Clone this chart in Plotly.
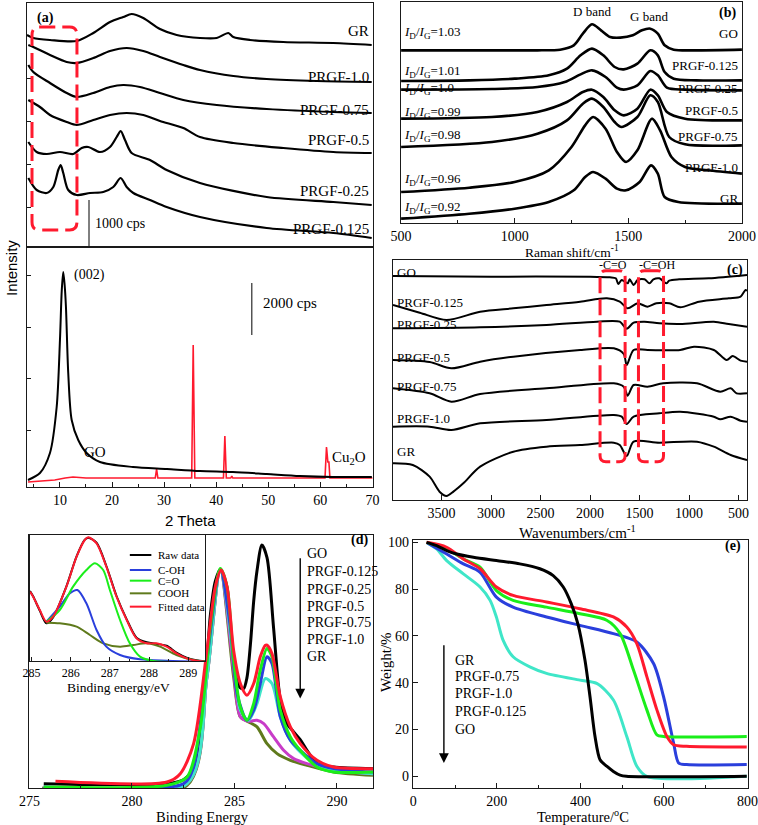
import plotly.graph_objects as go

W, H = 758, 825
SERIF = "Liberation Serif"
SANS = "Liberation Sans"

# ---------------- (a) XRD upper stack (2-theta, arbitrary intensity) ----------------
xrd_gr_x = [3.67, 4.88, 8.08, 13.2, 16.4, 19.6, 22.15, 23.75, 25.98, 29.19, 32.4, 36.87, 40.08, 42.31, 43.27, 46.47, 52.86, 62.46, 69.83]
xrd_gr_y = [215, 212, 210, 209, 217, 228, 233, 236, 232, 221, 215, 212, 212, 217, 213, 210, 208, 207, 205]
xrd_p10_x = [3.92, 4.88, 8.08, 11.29, 13.21, 16.4, 19.6, 22.8, 25.99, 29.19, 33.67, 36.87, 43.27, 49.67, 59.27, 69.83]
xrd_p10_y = [205, 203, 195, 188, 187, 192, 199, 202, 199, 193, 185, 180, 174, 171, 169, 168]
xrd_p075_x = [3.92, 4.88, 8.08, 11.29, 13.21, 16.4, 19.6, 22.15, 25.36, 29.19, 33.67, 40.08, 49.67, 62.46, 69.83]
xrd_p075_y = [185, 178, 167, 157, 153, 157, 163, 165, 163, 157, 150, 145, 141, 138, 137]
xrd_p05_x = [3.92, 6.16, 8.08, 11.29, 13.21, 16.4, 19.6, 22.8, 25.99, 29.19, 33.67, 36.87, 43.27, 52.86, 62.46, 69.83]
xrd_p05_y = [150, 143, 135, 128, 125, 130, 135, 137, 135, 129, 122, 113, 107, 102, 98, 97]
xrd_p025_x = [3.92, 5.53, 7.45, 10, 12.55, 14.17, 15.43, 17.68, 19.6, 20.88, 21.65, 22.48, 23.76, 27.27, 30.47, 36.87, 49.67, 62.46, 69.83]
xrd_p025_y = [108, 98, 96, 98, 96, 102, 103, 98, 103, 113, 119, 110, 97, 90, 80, 67, 53, 48, 45]
xrd_p0125_x = [3.92, 5.53, 7.45, 8.72, 9.67, 10.13, 10.63, 11.59, 13.21, 15.76, 18.31, 20.23, 21.65, 22.8, 24.07, 27.27, 30.47, 36.87, 49.67, 62.46, 69.83]
xrd_p0125_y = [72, 60, 57, 63, 80, 85, 77, 60, 55, 57, 58, 63, 72, 63, 57, 50, 43, 33, 22, 17, 12]
xrd_top_labels = ["GR", "PRGF-1.0", "PRGF-0.75", "PRGF-0.5", "PRGF-0.25", "PRGF-0.125"]
xrd_top_label_y = [219, 173, 140, 110, 59, 21]

# ---------------- (a) XRD lower: GO and Cu2O ----------------
xrd_go_x = [3.86, 6.16, 8.08, 9.37, 10.0, 10.35, 10.63, 10.9, 11.15, 11.59, 12.25, 13.51, 15.12, 17.68, 24.01, 30.54, 36.87, 43.2, 49.73, 56.07, 62.4, 69.9]
xrd_go_y = [10, 17, 37, 83, 150, 200, 218, 205, 183, 117, 70, 50, 37, 28, 23, 21, 19, 18, 16, 14, 13, 13]
xrd_cu2o_x = [3.86, 6, 9, 11, 12.5, 15, 20, 28.3, 28.56, 28.8, 35.3, 35.59, 35.9, 41.4, 41.67, 41.95, 42.8, 43, 43.2, 60.9, 61.19, 61.45, 61.65, 61.85, 70]
xrd_cu2o_y = [8, 9, 10, 12, 13, 12, 12, 12, 21, 12, 12, 145, 12, 12, 54, 12, 12, 14, 12, 12, 43, 28, 28, 12, 12]
xrd_ticks = [10, 20, 30, 40, 50, 60, 70]

# ---------------- (b) Raman ----------------
raman_names = ["GO", "PRGF-0.125", "PRGF-0.25", "PRGF-0.5", "PRGF-0.75", "PRGF-1.0", "GR"]
raman_go_x = [500, 700, 900, 1100, 1200, 1260, 1300, 1340, 1380, 1420, 1465, 1520, 1560, 1597, 1630, 1660, 1700, 1800, 2000]
raman_go_y = [520, 520, 520, 520, 522, 535, 570, 598, 580, 560, 558, 565, 580, 585, 570, 535, 522, 520, 522]
raman_p0125_x = [500, 800, 1000, 1150, 1230, 1290, 1340, 1390, 1440, 1480, 1540, 1597, 1630, 1660, 1700, 1800, 2000]
raman_p0125_y = [428, 430, 435, 445, 465, 505, 525, 505, 470, 463, 480, 520, 505, 455, 435, 430, 430]
raman_p025_x = [500, 900, 1100, 1220, 1290, 1340, 1400, 1450, 1480, 1540, 1597, 1630, 1670, 1750, 2000]
raman_p025_y = [402, 404, 410, 425, 448, 460, 440, 408, 402, 415, 458, 445, 408, 402, 400]
raman_p05_x = [500, 900, 1100, 1230, 1300, 1340, 1390, 1440, 1480, 1540, 1597, 1630, 1670, 1750, 2000]
raman_p05_y = [315, 320, 335, 365, 395, 402, 380, 340, 325, 345, 402, 385, 335, 315, 310]
raman_p075_x = [500, 900, 1100, 1230, 1300, 1340, 1390, 1440, 1470, 1540, 1597, 1630, 1680, 1750, 2000]
raman_p075_y = [230, 245, 270, 310, 360, 375, 350, 305, 290, 320, 385, 365, 260, 238, 235]
raman_p10_x = [500, 800, 1000, 1150, 1250, 1310, 1345, 1400, 1450, 1490, 1540, 1604, 1640, 1690, 1750, 1850, 2000]
raman_p10_y = [95, 108, 125, 160, 230, 295, 320, 285, 215, 185, 220, 315, 280, 200, 170, 160, 150]
raman_gr_x = [500, 800, 1000, 1150, 1260, 1310, 1345, 1400, 1450, 1490, 1550, 1600, 1630, 1660, 1720, 2000]
raman_gr_y = [15, 30, 45, 65, 100, 140, 155, 135, 105, 100, 125, 175, 150, 80, 65, 60]
raman_label_y = [570, 475, 405, 340, 263, 170, 75]
raman_ratio = ["1.03", "1.01", "1.0", "0.99", "0.98", "0.96", "0.92"]
raman_ratio_y = [575, 458, 405, 333, 265, 133, 50]
raman_ticks = [500, 1000, 1500, 2000]

# ---------------- (c) FTIR ----------------
ftir_names = ["GO", "PRGF-0.125", "PRGF-0.25", "PRGF-0.5", "PRGF-0.75", "PRGF-1.0", "GR"]
ftir_go_x = [3990, 3000, 2000, 1800, 1740, 1715, 1680, 1620, 1600, 1560, 1520, 1450, 1400, 1360, 1300, 1230, 1200, 1100, 800, 415]
ftir_go_y = [672, 670, 670, 668, 665, 648, 660, 650, 662, 645, 660, 662, 650, 662, 665, 650, 658, 662, 665, 675]
ftir_p0125_x = [3990, 3720, 3450, 3110, 2775, 2440, 2100, 1830, 1700, 1620, 1520, 1420, 1330, 1200, 1090, 900, 600, 480, 430, 415]
ftir_p0125_y = [585, 562, 540, 565, 575, 585, 595, 605, 595, 575, 590, 580, 590, 590, 578, 595, 605, 610, 630, 628]
ftir_p025_x = [3990, 3110, 2440, 1930, 1700, 1630, 1560, 1450, 1300, 1090, 750, 600, 415]
ftir_p025_y = [515, 518, 525, 535, 535, 514, 532, 535, 530, 528, 535, 528, 520]
ftir_p05_x = [3990, 3620, 3400, 3110, 2775, 2100, 1760, 1660, 1630, 1560, 1420, 1090, 950, 750, 620, 560, 480, 415]
ftir_p05_y = [420, 414, 395, 415, 430, 450, 455, 438, 405, 450, 450, 450, 460, 450, 420, 432, 418, 415]
ftir_p075_x = [3990, 3620, 3400, 3110, 2440, 1760, 1660, 1620, 1560, 1420, 1260, 920, 685, 580, 520, 415]
ftir_p075_y = [335, 320, 295, 318, 335, 350, 340, 313, 345, 340, 350, 350, 325, 335, 320, 320]
ftir_p10_x = [3990, 3620, 3400, 3110, 2440, 1760, 1680, 1630, 1560, 1300, 1090, 750, 685, 580, 480, 415]
ftir_p10_y = [220, 220, 210, 230, 240, 255, 250, 228, 250, 260, 265, 250, 242, 250, 238, 235]
ftir_gr_x = [3990, 3790, 3620, 3520, 3450, 3380, 3280, 3110, 2775, 2440, 2100, 1760, 1700, 1630, 1560, 1300, 920, 750, 580, 415]
ftir_gr_y = [110, 105, 70, 25, 12, 25, 50, 100, 145, 160, 165, 172, 165, 132, 175, 172, 175, 160, 135, 120]
ftir_label_y = [682, 592, 528, 428, 340, 245, 145]
ftir_ticks = [3500, 3000, 2500, 2000, 1500, 1000, 500]

# ---------------- (d) XPS C1s ----------------
xps_names = ["GO", "PRGF-0.125", "PRGF-0.25", "PRGF-0.5", "PRGF-0.75", "PRGF-1.0", "GR"]
xps_go_x = [275.7, 281.71, 282.52, 283.01, 283.34, 283.66, 283.83, 284.07, 284.31, 284.64, 284.8, 284.96, 285.13, 285.29, 285.45, 285.61, 285.78, 285.94, 286.1, 286.34, 286.59, 286.91, 287.24, 287.56, 287.89, 288.21, 288.54, 289.03, 289.84, 291.76]
xps_go_y = [13, 13, 25, 60, 160, 380, 520, 620, 655, 600, 480, 380, 320, 300, 298, 330, 430, 560, 650, 728, 690, 480, 263, 193, 168, 145, 113, 73, 63, 58]
xps_p0125_x = [276.27, 281.71, 282.36, 283.01, 283.66, 284.07, 284.35, 284.64, 284.96, 285.29, 285.61, 285.94, 286.26, 286.51, 286.59, 286.83, 287.24, 287.73, 288.21, 289.03, 289.84, 291.76]
xps_p0125_y = [20, 18, 43, 133, 413, 603, 653, 603, 413, 313, 278, 313, 393, 428, 428, 403, 273, 183, 133, 83, 63, 58]
xps_p025_x = [275.7, 281.71, 282.69, 283.34, 283.83, 284.31, 284.64, 284.96, 285.29, 285.61, 285.94, 286.26, 286.59, 286.83, 287.24, 287.73, 288.21, 289.03, 289.84, 291.76]
xps_p025_y = [3, 8, 33, 183, 483, 658, 603, 383, 243, 203, 253, 353, 418, 393, 233, 153, 113, 63, 48, 48]
xps_p05_x = [275.7, 282.52, 283.01, 283.66, 284.31, 284.8, 285.13, 285.61, 285.94, 286.26, 286.59, 286.83, 287.24, 287.73, 288.21, 289.03, 289.84, 291.76]
xps_p05_y = [3, 13, 63, 383, 653, 483, 283, 203, 233, 313, 393, 373, 213, 143, 113, 73, 58, 48]
xps_p075_x = [275.7, 282.69, 283.66, 284.31, 284.96, 285.29, 285.69, 286.1, 286.51, 286.83, 287.24, 287.73, 288.21, 289.03, 289.84, 291.76]
xps_p075_y = [3, 13, 333, 653, 383, 233, 203, 253, 328, 313, 213, 143, 108, 68, 53, 43]
xps_p10_x = [275.7, 282.69, 283.66, 284.31, 284.96, 285.29, 285.69, 286.1, 286.43, 286.91, 287.4, 287.89, 288.54, 289.84, 291.76]
xps_p10_y = [3, 13, 333, 653, 353, 213, 200, 203, 193, 153, 113, 88, 73, 53, 43]
xps_gr_x = [275.62, 282.69, 283.66, 284.31, 284.96, 285.29, 285.69, 286.1, 286.59, 287.08, 287.73, 288.54, 289.84, 291.76]
xps_gr_y = [0, 8, 333, 653, 333, 213, 198, 183, 133, 103, 83, 68, 48, 38]
xps_label_y = [703, 648, 596, 545, 495, 445, 395]
xps_ticks = [275, 280, 285, 290]

# ---------------- (d) inset: GO C1s fit ----------------
fit_names = ["Raw data", "C-OH", "C=O", "COOH", "Fitted data"]
fit_label_y = [320, 275, 243, 205, 165]
fit_raw_x = [284.96, 285.04, 285.21, 285.38, 285.55, 285.89, 286.15, 286.36, 286.45, 286.66, 286.91, 287.17, 287.43, 287.68, 287.94, 288.19, 288.45, 288.7, 288.96, 289.21, 289.43]
fit_raw_y = [212, 196, 153, 115, 133, 226, 316, 366, 372, 357, 287, 197, 127, 72, 58, 53, 48, 27, 12, 4, 1]
fit_sum_x = [284.96, 285.04, 285.21, 285.38, 285.55, 285.89, 286.15, 286.36, 286.45, 286.66, 286.91, 287.17, 287.43, 287.68, 287.94, 288.19, 288.45, 288.7, 288.96, 289.21, 289.43]
fit_sum_y = [210, 195, 155, 120, 135, 225, 315, 365, 373, 355, 285, 195, 125, 70, 55, 55, 45, 25, 10, 3, 0]
fit_coh_x = [285.38, 285.72, 285.98, 286.17, 286.4, 286.66, 286.91, 287.26, 287.77, 288.45, 289.43]
fit_coh_y = [120, 165, 205, 215, 175, 95, 45, 20, 7, 3, 0]
fit_co_x = [285.38, 285.72, 286.06, 286.4, 286.62, 286.83, 287.0, 287.26, 287.51, 287.77, 288.11, 289.43]
fit_co_y = [120, 155, 225, 275, 295, 275, 215, 125, 55, 15, 2, 0]
fit_cooh_x = [285.38, 285.72, 286.15, 286.49, 286.83, 287.26, 287.6, 287.94, 288.28, 288.7, 289.13, 289.43]
fit_cooh_y = [117, 115, 105, 80, 55, 45, 50, 55, 45, 20, 5, 0]
fit_ticks = [285, 286, 287, 288, 289]

# ---------------- (e) TGA ----------------
tga_names = ["GR", "PRGF-0.75", "PRGF-1.0", "PRGF-0.125", "GO"]
tga_black_x = [32, 56, 80, 104, 144, 199, 255, 303, 335, 359, 378, 394, 411, 423, 435, 447, 463, 479, 495, 510, 798]
tga_black_y = [100, 98.6, 96.5, 95, 93.6, 92.2, 90.8, 88.7, 85.8, 80.9, 73.8, 65.2, 49.6, 34, 17, 7.1, 4.3, 2.1, 0.5, 0, 0]
tga_red_x = [32, 80, 120, 160, 199, 239, 319, 399, 479, 511, 535, 559, 583, 607, 623, 654, 798]
tga_red_y = [100, 97.9, 92.9, 88.7, 80.9, 77.3, 74.5, 71.6, 68.1, 63.8, 56.7, 42.6, 28.4, 17, 13.5, 12.8, 12.5]
tga_green_x = [32, 80, 120, 160, 199, 239, 319, 399, 463, 495, 527, 559, 583, 599, 798]
tga_green_y = [100, 97.2, 92.9, 89.4, 79.4, 75.2, 72.3, 69.5, 66.7, 61, 45.4, 28.4, 17.7, 17, 17]
tga_blue_x = [32, 80, 120, 160, 199, 239, 319, 399, 479, 535, 575, 599, 623, 635, 654, 798]
tga_blue_y = [100, 95, 90.8, 87.2, 76.6, 72.3, 68.1, 64.5, 61, 57.4, 48.2, 34, 14.2, 5.7, 5, 5]
tga_cyan_x = [32, 56, 80, 120, 160, 184, 199, 215, 239, 279, 319, 399, 439, 479, 511, 535, 559, 798]
tga_cyan_y = [100, 97.2, 92.2, 86.5, 80.9, 75.2, 68.1, 58.2, 51.1, 46.8, 44, 41.1, 39.7, 32.6, 17, 4.3, 0, 0]
tga_label_y = [49.6, 42.6, 35.5, 27.7, 19.9]
tga_xticks = [0, 200, 400, 600, 800]
tga_yticks = [0, 20, 40, 60, 80, 100]

RED = "#ff1a2e"
GREEN = "#1aee1a"
BLUE = "#2a3fdc"
CYAN = "#3fe6c8"
MAG = "#c83cc8"
OLIVE = "#5f7a1c"


def px(x):
    return x / W


def py(y):
    return 1 - y / H


fig = go.Figure()


def line(x, y, ax, color="black", width=1.8, shape="spline"):
    fig.add_trace(go.Scatter(x=x, y=y, mode="lines", xaxis="x" + ax, yaxis="y" + ax,
                             line=dict(color=color, width=width, shape=shape, smoothing=0.8),
                             hoverinfo="skip"))


# (a) top
for xs, ys in [(xrd_gr_x, xrd_gr_y), (xrd_p10_x, xrd_p10_y), (xrd_p075_x, xrd_p075_y),
               (xrd_p05_x, xrd_p05_y), (xrd_p025_x, xrd_p025_y), (xrd_p0125_x, xrd_p0125_y)]:
    line(xs, ys, "", width=2.2)
# (a) bottom
line(xrd_cu2o_x, xrd_cu2o_y, "2", color=RED, width=1.6, shape="linear")
line(xrd_go_x, xrd_go_y, "2", width=2)
# (b)
for xs, ys in [(raman_go_x, raman_go_y), (raman_p0125_x, raman_p0125_y), (raman_p025_x, raman_p025_y),
               (raman_p05_x, raman_p05_y), (raman_p075_x, raman_p075_y), (raman_p10_x, raman_p10_y),
               (raman_gr_x, raman_gr_y)]:
    line(xs, ys, "3", width=2.6)
# (c)
for xs, ys in [(ftir_go_x, ftir_go_y), (ftir_p0125_x, ftir_p0125_y), (ftir_p025_x, ftir_p025_y),
               (ftir_p05_x, ftir_p05_y), (ftir_p075_x, ftir_p075_y), (ftir_p10_x, ftir_p10_y),
               (ftir_gr_x, ftir_gr_y)]:
    line(xs, ys, "4", width=2)
# (d)
for xs, ys, c in [(xps_go_x, xps_go_y, "black"), (xps_gr_x, xps_gr_y, OLIVE), (xps_p10_x, xps_p10_y, MAG),
                  (xps_p075_x, xps_p075_y, CYAN), (xps_p05_x, xps_p05_y, BLUE),
                  (xps_p025_x, xps_p025_y, GREEN), (xps_p0125_x, xps_p0125_y, RED)]:
    line(xs, ys, "5", color=c, width=3)
# inset
line(fit_raw_x, fit_raw_y, "6", color="black", width=2)
line(fit_cooh_x, fit_cooh_y, "6", color=OLIVE, width=2)
line(fit_coh_x, fit_coh_y, "6", color=BLUE, width=2)
line(fit_co_x, fit_co_y, "6", color=GREEN, width=2)
line(fit_sum_x, fit_sum_y, "6", color=RED, width=2)
# (e)
for xs, ys, c in [(tga_cyan_x, tga_cyan_y, CYAN), (tga_blue_x, tga_blue_y, BLUE),
                  (tga_green_x, tga_green_y, GREEN), (tga_red_x, tga_red_y, RED),
                  (tga_black_x, tga_black_y, "black")]:
    line(xs, ys, "7", color=c, width=3)


def axis(dom, rng, anchor, **kw):
    d = dict(domain=dom, range=rng, anchor=anchor, showline=True, mirror=True, automargin=False,
             linecolor="#1a1a1a", linewidth=1.3, zeroline=False, showgrid=False,
             ticks="", showticklabels=False, ticklabeloverflow="allow",
             tickfont=dict(family=SERIF, size=14, color="black"))
    d.update(kw)
    return d


def xd(a, b):
    return [a / W, b / W]


def yd(top, bottom):
    return [1 - bottom / H, 1 - top / H]


tick_in = dict(ticks="inside", ticklen=5, tickwidth=1.2, tickcolor="#1a1a1a", showticklabels=True)

layout = dict(
    template="none",
    width=W, height=H, autosize=False, margin=dict(l=0, r=0, t=0, b=0, pad=0),
    paper_bgcolor="white", plot_bgcolor="white", showlegend=False,
    xaxis=axis(xd(27, 373), [3.67, 70.08], "y"),
    yaxis=axis(yd(3, 246), [4, 247], "x", ticks="inside", ticklen=4, tickcolor="#1a1a1a",
               tickvals=[43, 86, 129, 172]),
    xaxis2=axis(xd(27, 373), [3.67, 70.12], "y2", tickvals=xrd_ticks,
                minor=dict(dtick=5, tick0=0, ticks="inside", ticklen=3, tickcolor="#1a1a1a"), **tick_in),
    yaxis2=axis(yd(248, 487), [3, 242], "x2", ticks="inside", ticklen=4, tickcolor="#1a1a1a",
                tickvals=[60, 112, 163, 215]),
    xaxis3=axis(xd(401, 742), [499.5, 2000.5], "y3", tickvals=raman_ticks,
                minor=dict(dtick=250, tick0=500, ticks="inside", ticklen=3, tickcolor="#1a1a1a"), **tick_in),
    yaxis3=axis(yd(2, 223), [2, 665], "x3"),
    xaxis4=axis(xd(393, 747), [3990, 415], "y4", tickvals=ftir_ticks, **tick_in),
    yaxis4=axis(yd(260, 500), [0, 720], "x4"),
    xaxis5=axis(xd(29, 373), [274.98, 291.76], "y5", tickvals=xps_ticks,
                minor=dict(dtick=2.5, tick0=275, ticks="inside", ticklen=3, tickcolor="#1a1a1a"), **tick_in),
    yaxis5=axis(yd(535, 788), [0, 758], "x5"),
    xaxis6=axis(xd(30, 205), [284.96, 289.43], "y6", tickvals=fit_ticks,
                minor=dict(dtick=0.5, tick0=285, ticks="inside", ticklen=2, tickcolor="#1a1a1a"),
                ticks="inside", ticklen=4, tickcolor="#1a1a1a", showticklabels=True,
                tickfont=dict(family=SERIF, size=12, color="black")),
    yaxis6=axis(yd(535, 661), [2, 380], "x6"),
    xaxis7=axis(xd(413, 748), [-0.5, 801], "y7", tickvals=tga_xticks,
                minor=dict(dtick=100, tick0=0, ticks="inside", ticklen=3, tickcolor="#1a1a1a"), **tick_in),
    yaxis7=axis(yd(540, 788), [-5, 101], "x7", tickvals=tga_yticks, **tick_in),
)

ann = []


def t(text, x, y, ref, size=14, xanchor="center", yanchor="middle", family=SERIF, **kw):
    d = dict(text=text, x=x, y=y, xref="x" + ref if ref != "paper" else "paper",
             yref="y" + ref if ref != "paper" else "paper", showarrow=False,
             xanchor=xanchor, yanchor=yanchor, font=dict(family=family, size=size, color="black"))
    d.update(kw)
    ann.append(d)


# (a) texts
for lab, yy in zip(xrd_top_labels, xrd_top_label_y):
    t(lab, 69.6, yy, "", size=15, xanchor="right")
t("<b>(a)</b>", 5.3, 232, "", size=14, xanchor="left")
t("1000 cps", 16.3, 27, "", size=14, xanchor="left")
t("(002)", 12.4, 215, "2", size=14, xanchor="left")
t("GO", 16.7, 38, "2", size=15)
t("Cu<sub>2</sub>O", 65.6, 32, "2", size=15)
t("2000 cps", 48.6, 187, "2", size=15, xanchor="left")
# (b) texts
for lab, yy in zip(raman_names, raman_label_y):
    t(lab, 1990, yy, "3", size=13, xanchor="right")
for r, yy in zip(raman_ratio, raman_ratio_y):
    t("<i>I</i><sub>D</sub>/<i>I</i><sub>G</sub>=" + r, 503, yy, "3", size=13, xanchor="left")
t("D band", 1340, 636, "3", size=13)
t("G band", 1590, 622, "3", size=13)
t("<b>(b)</b>", 1985, 632, "3", size=14, xanchor="right")
# (c) texts
for lab, yy in zip(ftir_names, ftir_label_y):
    t(lab, 3972, yy, "4", size=13, xanchor="left")
t("-C=O", 1764, 706, "4", size=12)
t("-C=OH", 1320, 706, "4", size=12)
t("<b>(c)</b>", 440, 690, "4", size=14, xanchor="right")
# (d) texts
for lab, yy in zip(xps_names, xps_label_y):
    t(lab, 288.46, yy, "5", size=14, xanchor="left")
t("<b>(d)</b>", 291.6, 743, "5", size=14, xanchor="right")
ann.append(dict(x=288.21, y=268, ax=288.21, ay=693, xref="x5", yref="y5", axref="x5", ayref="y5",
                showarrow=True, arrowhead=2, arrowsize=1.4, arrowwidth=1.4, arrowcolor="black", text=""))
# inset legend text
for lab, yy in zip(fit_names, fit_label_y):
    t(lab, 288.17, yy, "6", size=11, xanchor="left")
# (e) texts
for lab, yy in zip(tga_names, tga_label_y):
    t(lab, 96, yy, "7", size=14, xanchor="left")
t("<b>(e)</b>", 790, 98.5, "7", size=14, xanchor="right")
ann.append(dict(x=73.4, y=5.7, ax=73.4, ay=56.7, xref="x7", yref="y7", axref="x7", ayref="y7",
                showarrow=True, arrowhead=2, arrowsize=1.4, arrowwidth=1.4, arrowcolor="black", text=""))

# axis titles (paper)
t("Intensity", px(11), py(268), "paper", size=15, family=SANS, textangle=-90)
t("2 Theta", px(190), py(520), "paper", size=15, family=SANS)
t("Raman shift/cm<sup>-1</sup>", px(572), py(252), "paper", size=13.5)
t("Wavenumbers/cm<sup>-1</sup>", px(577), py(532), "paper", size=15)
t("Binding Energy", px(202), py(817), "paper", size=14.5)
t("Binding energy/eV", px(118), py(687), "paper", size=13.5)
t("Temperature/<sup>o</sup>C", px(583), py(816), "paper", size=14.5)
t("Weight/%", px(386), py(662), "paper", size=15, textangle=-90)

layout["annotations"] = ann

# shapes
shapes = []


def rrect(xl, xr, yb, yt, rx, ry):
    sx = 1 if xr > xl else -1
    r = rx * sx
    return (f"M {xl + r},{yt} L {xr - r},{yt} Q {xr},{yt} {xr},{yt - ry} L {xr},{yb + ry} "
            f"Q {xr},{yb} {xr - r},{yb} L {xl + r},{yb} Q {xl},{yb} {xl},{yb + ry} "
            f"L {xl},{yt - ry} Q {xl},{yt} {xl + r},{yt} Z")


shapes.append(dict(type="path", xref="x", yref="y", path=rrect(4.63, 13.26, 20, 223, 1.4, 8),
                   line=dict(color=RED, width=3, dash="16px,7px")))
shapes.append(dict(type="path", xref="x4", yref="y4", path=rrect(1899, 1646, 115, 688, 60, 18),
                   line=dict(color=RED, width=3, dash="16px,6px")))
shapes.append(dict(type="path", xref="x4", yref="y4", path=rrect(1511, 1258, 115, 688, 60, 18),
                   line=dict(color=RED, width=3, dash="16px,6px")))
# scale bars
shapes.append(dict(type="line", xref="x", yref="y", x0=15.57, x1=15.57, y0=4, y1=50,
                   line=dict(color="black", width=1)))
shapes.append(dict(type="line", xref="x2", yref="y2", x0=46.85, x1=46.85, y0=155, y1=207,
                   line=dict(color="black", width=1)))
# inset legend samples
for c, yy in zip(["black", BLUE, GREEN, OLIVE, RED], fit_label_y):
    shapes.append(dict(type="line", xref="x6", yref="y6", x0=287.51, x1=288.06, y0=yy, y1=yy,
                       line=dict(color=c, width=2)))
layout["shapes"] = shapes

fig.update_layout(**layout)
fig.write_html("out.html", config={"responsive": False, "displayModeBar": False},
               post_script="document.body.style.margin='0';document.body.style.overflow='hidden';")
